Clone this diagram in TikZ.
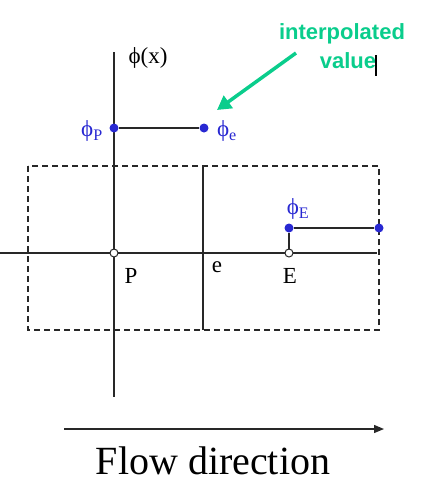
\documentclass[tikz,border=0pt]{standalone}
\usepackage{fontspec}
\setmainfont{Liberation Serif}
\newfontfamily\notesans{Liberation Sans}
\usetikzlibrary{arrows.meta}
\definecolor{phiblue}{RGB}{40,40,210}
\definecolor{notegreen}{RGB}{10,205,140}
\definecolor{axisgray}{RGB}{40,40,40}
\tikzset{
  axis/.style={axisgray,line width=1.3pt},
  cell/.style={axisgray,line width=1.2pt,dash pattern=on 6pt off 4pt},
  bluedot/.style={circle,fill=phiblue,inner sep=0pt,minimum size=9pt},
  gridpt/.style={circle,draw=axisgray,fill=white,line width=1pt,inner sep=0pt,minimum size=8pt},
  lbl/.style={inner sep=0pt,font=\fontsize{23}{26}\selectfont},
  philbl/.style={lbl,text=phiblue},
  notelbl/.style={inner sep=0pt,text=notegreen,font=\notesans\bfseries\fontsize{22}{24}\selectfont}
}
\begin{document}
\begin{tikzpicture}[x=1pt,y=-1pt]
    \useasboundingbox (0,0) rectangle (428,488);
    % axes and control volumes
    \coordinate (ytop) at (114,52);
    \coordinate (ybot) at (114,397);
    \coordinate (xleft) at (0,253);
    \coordinate (xright) at (377,253);
    \coordinate (etop) at (203,166);
    \coordinate (ebot) at (203,330);
    \draw[axis] (ytop) -- (ybot);
    \draw[axis] (xleft) -- (xright);
    \draw[cell] (28,166) rectangle (379,330);
    \draw[axis] (etop) -- (ebot);
    % grid points and values
    \node[gridpt] (P) at (114,253) {};
    \node[gridpt] (E) at (289,253) {};
    \node[bluedot] (phiP) at (114,128) {};
    \node[bluedot] (phie) at (204,128) {};
    \node[bluedot] (phiE) at (289,228) {};
    \node[bluedot] (phiEr) at (379,228) {};
    \draw[axis] (phiP) -- (phie);
    \draw[axis] (E) -- (phiE);
    \draw[axis] (phiE) -- (phiEr);
    % labels
    \node[lbl] (phix) at (148,58) {ϕ(x)};
    \node[philbl] (lphiP) at (92,131) {ϕ\textsubscript{P}};
    \node[philbl] (lphie) at (227,131) {ϕ\textsubscript{e}};
    \node[philbl] (lphiE) at (298,209) {ϕ\textsubscript{E}};
    \node[lbl] (lP) at (131,276) {P};
    \node[lbl] (le) at (217,267) {e};
    \node[lbl] (lE) at (290,276) {E};
    % note
    \node[notelbl] (note1) at (342,34) {interpolated};
    \node[notelbl] (note2) at (348,61) {value};
    \draw[black,line width=1.2pt] (376,55) -- (376,76);
    \coordinate (notetail) at (296,53);
    \coordinate (notehead) at (217,110);
    \draw[notegreen,line width=3.5pt,-{Triangle[length=14pt,width=15pt]}] (notetail) -- (notehead);
    % flow direction
    \coordinate (flowstart) at (64,429);
    \coordinate (flowend) at (384,429);
    \draw[axis,-{Triangle[length=10pt,width=8pt]}] (flowstart) -- (flowend);
    \node[anchor=base,inner sep=0pt,font=\fontsize{40}{44}\selectfont] (flow) at (213,474) {Flow direction};
\end{tikzpicture}
\end{document}
